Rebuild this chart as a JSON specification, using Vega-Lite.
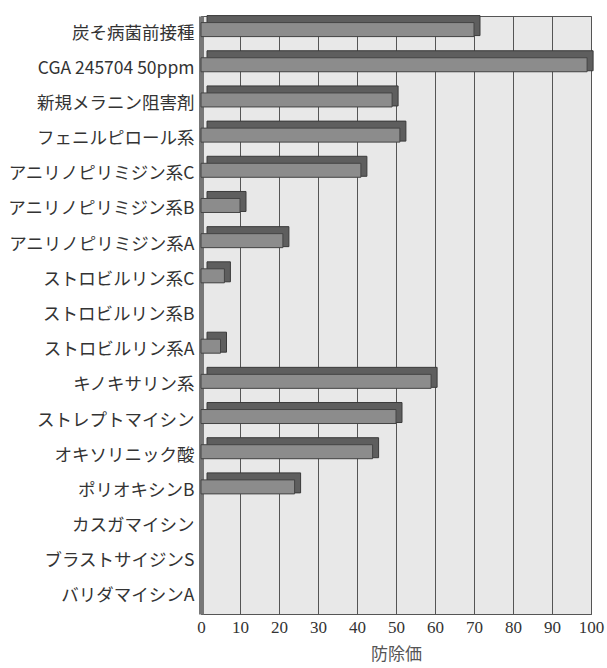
{
  "$schema": "https://vega.github.io/schema/vega-lite/v6.json",
  "width": 390,
  "height": 598,
  "autosize": "none",
  "padding": {"left": 201, "top": 16, "right": 16, "bottom": 54},
  "background": "white",
  "config": {"view": {"fill": "#e8e8e8", "stroke": "#555", "strokeWidth": 1}},
  "data": {
    "values": [
      {"name": "炭そ病菌前接種", "value": 70},
      {"name": "CGA 245704 50ppm", "value": 99},
      {"name": "新規メラニン阻害剤", "value": 49},
      {"name": "フェニルピロール系", "value": 51},
      {"name": "アニリノピリミジン系C", "value": 41},
      {"name": "アニリノピリミジン系B", "value": 10},
      {"name": "アニリノピリミジン系A", "value": 21},
      {"name": "ストロビルリン系C", "value": 6},
      {"name": "ストロビルリン系B", "value": 0},
      {"name": "ストロビルリン系A", "value": 5},
      {"name": "キノキサリン系", "value": 59},
      {"name": "ストレプトマイシン", "value": 50},
      {"name": "オキソリニック酸", "value": 44},
      {"name": "ポリオキシンB", "value": 24},
      {"name": "カスガマイシン", "value": 0},
      {"name": "ブラストサイジンS", "value": 0},
      {"name": "バリダマイシンA", "value": 0}
    ]
  },
  "encoding": {
    "y": {
      "field": "name",
      "type": "nominal",
      "sort": null,
      "scale": {"paddingInner": 0, "paddingOuter": 0},
      "axis": {
        "title": null,
        "labelFont": "Noto Sans CJK JP",
        "labelFontSize": 17.5,
        "labelColor": "#333",
        "labelPadding": 7,
        "labelLimit": 260,
        "ticks": false,
        "domainColor": "#777",
        "domainWidth": 5
      }
    },
    "x": {
      "field": "value",
      "type": "quantitative",
      "scale": {"domain": [0, 100], "nice": false},
      "axis": {
        "values": [0, 10, 20, 30, 40, 50, 60, 70, 80, 90, 100],
        "title": "防除価",
        "titleFont": "Noto Sans CJK JP",
        "titleFontSize": 17,
        "titleFontWeight": "normal",
        "titleColor": "#555",
        "titlePadding": 11,
        "labelFont": "Liberation Serif",
        "labelFontSize": 17,
        "labelColor": "#333",
        "labelPadding": 5,
        "labelFlush": false,
        "ticks": false,
        "grid": true,
        "gridColor": "#555",
        "gridWidth": 1,
        "domainColor": "#555"
      }
    }
  },
  "layer": [
    {
      "mark": {"type": "bar", "color": "#5e5e5e", "stroke": "#3a3a3a", "strokeWidth": 1, "xOffset": 6, "yOffset": -8, "size": 20},
      "encoding": {
        "opacity": {"condition": {"test": "datum.value == 0", "value": 0}, "value": 1}
      }
    },
    {
      "mark": {"type": "bar", "color": "#8c8c8c", "stroke": "#444", "strokeWidth": 1, "yOffset": -4, "size": 14},
      "encoding": {
        "opacity": {"condition": {"test": "datum.value == 0", "value": 0}, "value": 1}
      }
    }
  ]
}
